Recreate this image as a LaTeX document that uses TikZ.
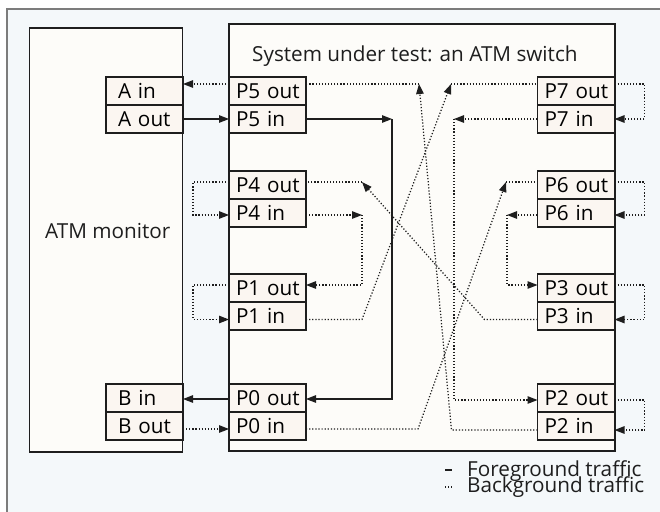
\documentclass[tikz,border=0pt]{standalone}
\usepackage{fontspec}
\setmainfont{Open Sans}
\usetikzlibrary{arrows.meta}
\definecolor{bgblue}{HTML}{F4F8FA}
\definecolor{boxfill}{HTML}{FDFCF9}
\definecolor{portfill}{HTML}{FBF6F1}
\definecolor{ink}{HTML}{1E1E1E}
\definecolor{framegray}{HTML}{7C7C7C}
\begin{document}
\begin{tikzpicture}[x=1pt,y=-1pt,
  font=\fontsize{20.7}{24}\selectfont,
  port/.style={draw=ink, line width=1.1pt, fill=portfill, anchor=north west,
    minimum width=77pt, minimum height=28pt, inner xsep=0pt, text width=77pt,
    align=left, text height=14.5pt, text depth=0pt, outer sep=0pt,
    execute at begin node={\hspace*{7pt}}},
  monport/.style={port, execute at begin node={\hspace*{5pt}}},
  bigbox/.style={draw=ink, line width=1.3pt, fill=boxfill, anchor=north west,
    inner sep=0pt, outer sep=0pt},
  label/.style={anchor=base west, inner sep=0pt, text=ink},
  fg/.style={draw=ink, line width=1.2pt},
  bg/.style={draw=ink, line width=1.25pt, dash pattern=on 1.2pt off 1.9pt},
  tip/.style={-{Triangle[length=10pt,width=7.5pt]}}
]
\useasboundingbox (0,0) rectangle (660,511);
\clip (0,0) rectangle (660,511);
\fill[white] (0,0) rectangle (660,511);
\draw[draw=framegray, line width=1.5pt, fill=bgblue] (7,9) rectangle (690,540);

% monitor and switch frames
\node[bigbox, minimum width=153pt, minimum height=424pt] (monitor) at (29.5,28) {};
\node[bigbox, minimum width=386pt, minimum height=427pt] (switch) at (229,24) {};
\node[label] (montitle) at (45,238) {ATM monitor};
\node[label] (swtitle) at (252,61) {System under test: an ATM switch};

% monitor ports
\node[monport] (aIn)  at (106,77)  {A in};
\node[monport] (aOut) at (106,105) {A out};
\node[monport] (bIn)  at (106,384) {B in};
\node[monport] (bOut) at (106,412) {B out};

% switch ports, left column
\node[port] (p5o) at (229,77)  {P5 out};
\node[port] (p5i) at (229,105) {P5 in};
\node[port] (p4o) at (229,171) {P4 out};
\node[port] (p4i) at (229,199) {P4 in};
\node[port] (p1o) at (229,274) {P1 out};
\node[port] (p1i) at (229,302) {P1 in};
\node[port] (p0o) at (229,384) {P0 out};
\node[port] (p0i) at (229,412) {P0 in};

% switch ports, right column
\node[port] (p7o) at (537.5,77)  {P7 out};
\node[port] (p7i) at (537.5,105) {P7 in};
\node[port] (p6o) at (537.5,171) {P6 out};
\node[port] (p6i) at (537.5,199) {P6 in};
\node[port] (p3o) at (537.5,274) {P3 out};
\node[port] (p3i) at (537.5,302) {P3 in};
\node[port] (p2o) at (537.5,384) {P2 out};
\node[port] (p2i) at (537.5,412) {P2 in};

% monitor <-> switch
\draw[fg,tip] (aOut.east) -- (p5i.west);
\draw[bg,tip] ([yshift=7pt]p5o.west) -- ([yshift=7pt]aIn.east);
\draw[fg,tip] ([yshift=-1pt]p0o.west) -- ([yshift=-1pt]bIn.east);
\draw[bg,tip] ([yshift=-3pt]bOut.east) -- ([yshift=-3pt]p0i.west);

% loopbacks on the left
\draw[bg,tip] ([yshift=3pt]p4o.west) -- ++(-36,0) |- ([yshift=-2pt]p4i.west);
\draw[bg,tip] ([yshift=3pt]p1o.west) -- ++(-36,0) |- ([yshift=-3.5pt]p1i.west);

% loopbacks on the right
\draw[bg,tip] ([yshift=7pt]p7o.east) -- ++(30,0) |- (p7i.east);
\draw[bg,tip] ([yshift=3pt]p6o.east) -- ++(30,0) |- ([yshift=-2pt]p6i.east);
\draw[bg,tip] ([yshift=3pt]p3o.east) -- ++(30,0) |- ([yshift=-3.5pt]p3i.east);
\draw[bg,tip] ([yshift=-2pt]p2o.east) -- ++(30,0) |- ([yshift=-4pt]p2i.east);

% routes through the switch
\coordinate (kA) at (392,119);
\draw[fg,tip] (p5i.east) -- (kA);
\draw[fg,tip] (kA) |- ([yshift=-1pt]p0o.east);

\coordinate (kB) at (362,215);
\draw[bg,tip] ([yshift=-2pt]p4i.east) -- (kB);
\draw[bg,tip] (kB) |- ([yshift=3pt]p1o.east);

\coordinate (kC) at (507,215);
\draw[bg,tip] ([yshift=-2pt]p6i.west) -- (kC);
\draw[bg,tip] (kC) |- ([yshift=3pt]p3o.west);

\coordinate (kD) at (454,119);
\draw[bg,tip] (p7i.west) -- (kD);
\draw[bg,tip] (kD) |- ([yshift=-2pt]p2o.west);

\coordinate (kE) at (419,84);
\draw[bg,tip] ([yshift=-4pt]p2i.west) -- ++(-86,0) -- (kE);
\draw[bg] (kE) -- ([yshift=7pt]p5o.east);

\coordinate (kF) at (451,84);
\draw[bg,tip] ([yshift=-3.5pt]p1i.east) -- ++(56,0) -- (kF);
\draw[bg] (kF) -- ([yshift=7pt]p7o.west);

\coordinate (kG) at (362,182);
\draw[bg,tip] ([yshift=-3.5pt]p3i.west) -- ++(-53,0) -- (kG);
\draw[bg] (kG) -- ([yshift=3pt]p4o.east);

\coordinate (kH) at (506,182);
\draw[bg,tip] ([yshift=-3pt]p0i.east) -- ++(112,0) -- (kH);
\draw[bg] (kH) -- ([yshift=3pt]p6o.west);

% legend
\node[label] (fgkey) at (467,476) {Foreground traffic};
\node[label] (bgkey) at (467,492) {Background traffic};
\draw[fg] (445,470) -- (452,470);
\draw[bg] (445,487) -- (452,487);
\end{tikzpicture}
\end{document}
